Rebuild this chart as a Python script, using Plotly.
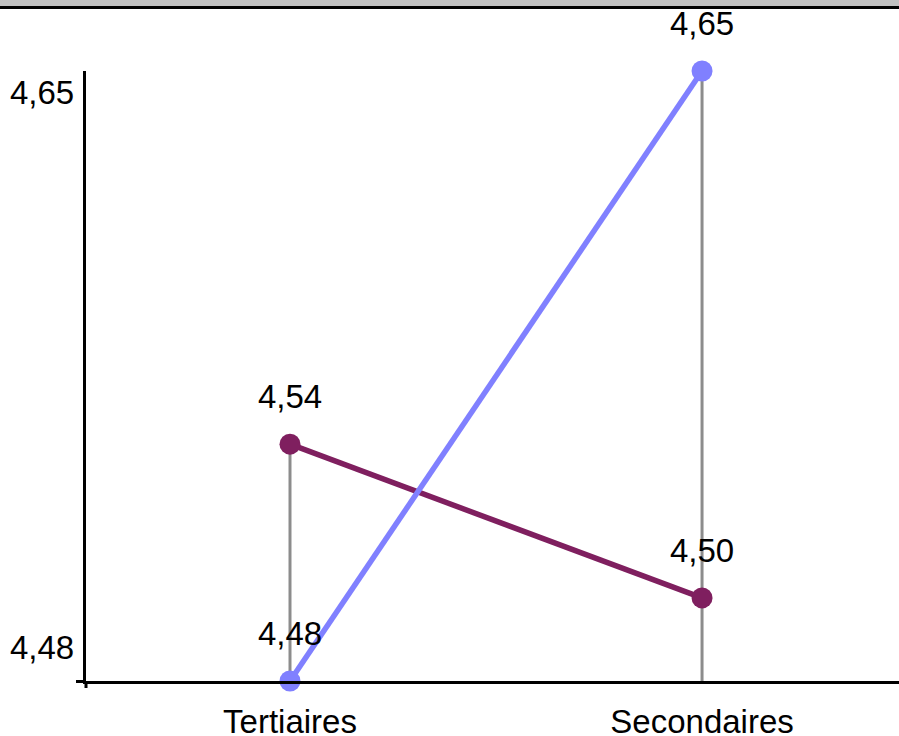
import plotly.graph_objects as go

# Categories and series values
categories = ["Tertiaires", "Secondaires"]
serie_violet = [4.5449, 4.4996]
serie_bleu = [4.4751, 4.6549]

couleur_violet = "#7F1F5F"
couleur_bleu = "#8080FF"
police = "Liberation Sans, Arial, sans-serif"
taille = 33

y_min = min(serie_violet + serie_bleu)
y_max = max(serie_violet + serie_bleu)

fig = go.Figure()

# Gray drop lines from each category's highest value down to the axis
drop_x, drop_y = [], []
for i, cat in enumerate(categories):
    drop_x += [cat, cat, None]
    drop_y += [y_min, max(serie_violet[i], serie_bleu[i]), None]
fig.add_trace(go.Scatter(
    x=drop_x, y=drop_y, mode="lines",
    line=dict(color="#8C8C8C", width=3),
    hoverinfo="skip", showlegend=False, cliponaxis=False,
))

for valeurs, couleur in ((serie_violet, couleur_violet), (serie_bleu, couleur_bleu)):
    fig.add_trace(go.Scatter(
        x=categories, y=valeurs, mode="lines+markers",
        line=dict(color=couleur, width=5.5),
        marker=dict(color=couleur, size=21),
        showlegend=False, cliponaxis=False,
    ))
    # Value labels, set further above the points by a transparent marker
    fig.add_trace(go.Scatter(
        x=categories, y=valeurs, mode="markers+text",
        marker=dict(size=43, opacity=0),
        text=valeurs, texttemplate="%{y:.2f}", textposition="top center",
        textfont=dict(family=police, size=taille, color="black"),
        hoverinfo="skip", showlegend=False, cliponaxis=False,
    ))

# Y tick labels placed just inside the ends of the axis
fig.add_annotation(x=0, xref="paper", xanchor="right", xshift=-10,
                   y=y_max, yref="y", yanchor="middle", yshift=-21,
                   text=f"{y_max:.2f}".replace(".", ","), showarrow=False,
                   font=dict(family=police, size=taille, color="black"))
fig.add_annotation(x=0, xref="paper", xanchor="right", xshift=-10,
                   y=y_min, yref="y", yanchor="middle", yshift=34,
                   text=f"{y_min:.2f}".replace(".", ","), showarrow=False,
                   font=dict(family=police, size=taille, color="black"))

# Header band at the top of the page
fig.add_shape(type="rect", xref="paper", x0=-0.2, x1=1.1,
              yref="paper", ysizemode="pixel", yanchor=1, y0=65, y1=75,
              fillcolor="#C0C0C0", line_width=0, layer="below")
fig.add_shape(type="rect", xref="paper", x0=-0.2, x1=1.1,
              yref="paper", ysizemode="pixel", yanchor=1, y0=62, y1=65,
              fillcolor="black", line_width=0, layer="below")
# Short extension of the vertical axis below the baseline
fig.add_shape(type="line", xref="paper", x0=0, x1=0,
              yref="paper", ysizemode="pixel", yanchor=0, y0=-7, y1=0,
              line=dict(color="black", width=3))

fig.update_layout(
    width=899, height=736,
    margin=dict(l=86, r=0, t=71, b=55, autoexpand=False),
    paper_bgcolor="white", plot_bgcolor="white",
    separators=", ",
    font=dict(family=police, size=taille, color="black"),
    xaxis=dict(
        type="category", categoryorder="array", categoryarray=categories,
        range=[-0.4951, 1.478], showgrid=False, zeroline=False,
        showline=True, linecolor="black", linewidth=3, automargin=False,
        ticks="", ticklabelstandoff=9,
        tickfont=dict(family=police, size=taille, color="black"),
    ),
    yaxis=dict(
        range=[y_min, y_max], showgrid=False, zeroline=False,
        showline=True, linecolor="black", linewidth=3, automargin=False,
        tickvals=[y_min], ticks="outside", ticklen=7, tickwidth=3,
        tickcolor="black", showticklabels=False,
    ),
)

fig.write_html("out.html")
